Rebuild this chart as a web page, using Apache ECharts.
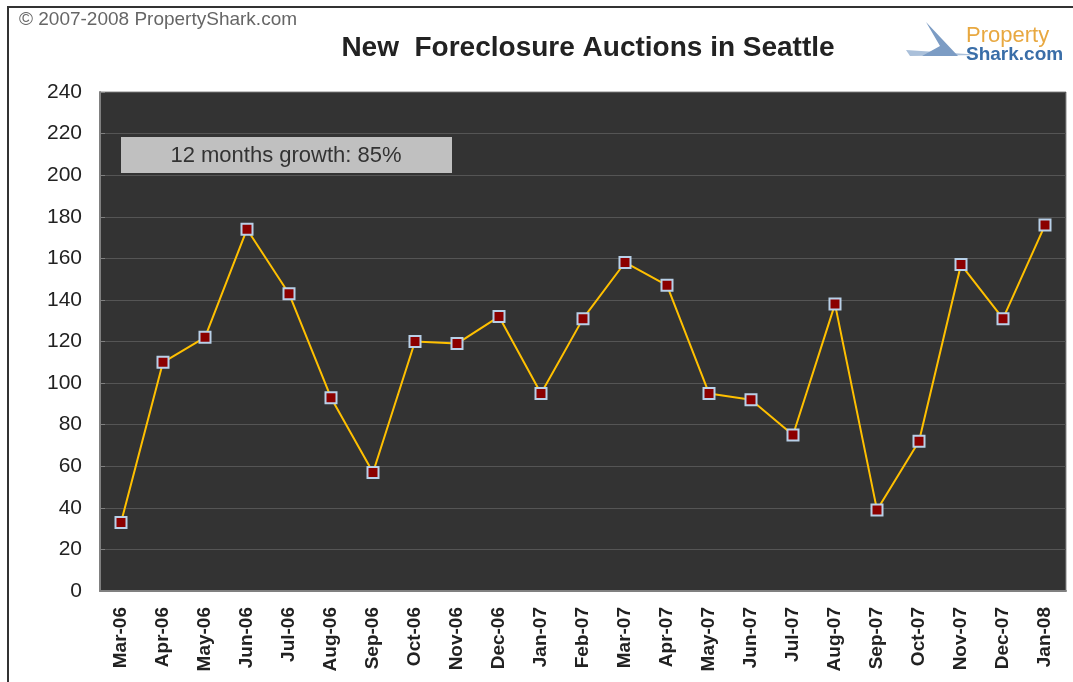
<!DOCTYPE html>
<html><head><meta charset="utf-8">
<script src="https://cdn.jsdelivr.net/npm/echarts@6/dist/echarts.min.js"></script>
<style>html,body{margin:0;padding:0;background:#fff}#c{width:1073px;height:682px}</style>
</head><body><div id="c"></div>
<script>
const categories = ['Mar-06','Apr-06','May-06','Jun-06','Jul-06','Aug-06','Sep-06','Oct-06','Nov-06','Dec-06','Jan-07','Feb-07','Mar-07','Apr-07','May-07','Jun-07','Jul-07','Aug-07','Sep-07','Oct-07','Nov-07','Dec-07','Jan-08'];
const auctions = [33,110,122,174,143,93,57,120,119,132,95,131,158,147,95,92,75,138,39,72,157,131,176];
const titleText = 'New  Foreclosure Auctions in Seattle';
const growthText = '12 months growth: 85%';
const copyrightText = '\u00a9 2007-2008 PropertyShark.com';

const chart = echarts.init(document.getElementById('c'));
chart.setOption({
  backgroundColor: '#ffffff',
  animation: false,
  grid: {left: 100, right: 7, top: 92, bottom: 91, show: true, backgroundColor: '#333333', borderWidth: 1, borderColor: '#8a8a8a'},
  xAxis: {
    type: 'category', data: categories, boundaryGap: true,
    axisLine: {show: true, lineStyle: {color: '#808080', width: 2}},
    axisTick: {show: false},
    axisLabel: {rotate: 90, margin: 16, fontFamily: 'Liberation Sans', fontSize: 19, fontWeight: 'bold', color: '#222', interval: 0}
  },
  yAxis: {
    type: 'value', min: 0, max: 240, interval: 20,
    axisLine: {show: true, lineStyle: {color: '#808080', width: 2}},
    axisTick: {show: true, inside: true, length: 5, lineStyle: {color: '#808080'}},
    splitLine: {show: true, lineStyle: {color: '#555555', width: 1}},
    axisLabel: {margin: 18, fontFamily: 'Liberation Sans', fontSize: 21, color: '#222'}
  },
  series: [{
    type: 'line', data: auctions,
    symbol: 'rect', symbolSize: 11,
    lineStyle: {color: '#ffc000', width: 2},
    itemStyle: {color: '#8b0000', borderColor: '#b8d0e8', borderWidth: 2}
  }],
  graphic: [
    {type: 'polyline', shape: {points: [[8,690],[8,7],[1073,7]]}, style: {fill: 'none', stroke: '#333', lineWidth: 2}, z: 100},
    {type: 'text', x: 19, y: 20, style: {text: copyrightText, fontFamily: 'Liberation Sans', fontSize: 19, fill: '#666', verticalAlign: 'middle'}},
    {type: 'text', x: 588, y: 48, style: {text: titleText, fontFamily: 'Liberation Sans', fontSize: 28, fontWeight: 'bold', fill: '#222', align: 'center', verticalAlign: 'middle'}},
    {type: 'rect', shape: {x: 121, y: 137, width: 331, height: 36}, style: {fill: '#c0c0c0'}, z: 50},
    {type: 'text', x: 286, y: 156, style: {text: growthText, fontFamily: 'Liberation Sans', fontSize: 22, fill: '#333', align: 'center', verticalAlign: 'middle'}, z: 51},
    {type: 'polygon', shape: {points: [[926,22],[958,56],[922,56],[940,46]]}, style: {fill: '#7c9cc4'}, z: 20},
    {type: 'polygon', shape: {points: [[906,50],[982,55],[910,56]]}, style: {fill: '#aac0da'}, z: 19},
    {type: 'text', x: 966, y: 36, style: {text: 'Property', fontFamily: 'Liberation Sans', fontSize: 22, fill: '#e8a840', verticalAlign: 'middle'}, z: 20},
    {type: 'text', x: 966, y: 55, style: {text: 'Shark.com', fontFamily: 'Liberation Sans', fontSize: 19, fontWeight: 'bold', fill: '#3a6ea8', verticalAlign: 'middle'}, z: 20}
  ]
});
</script></body></html>
